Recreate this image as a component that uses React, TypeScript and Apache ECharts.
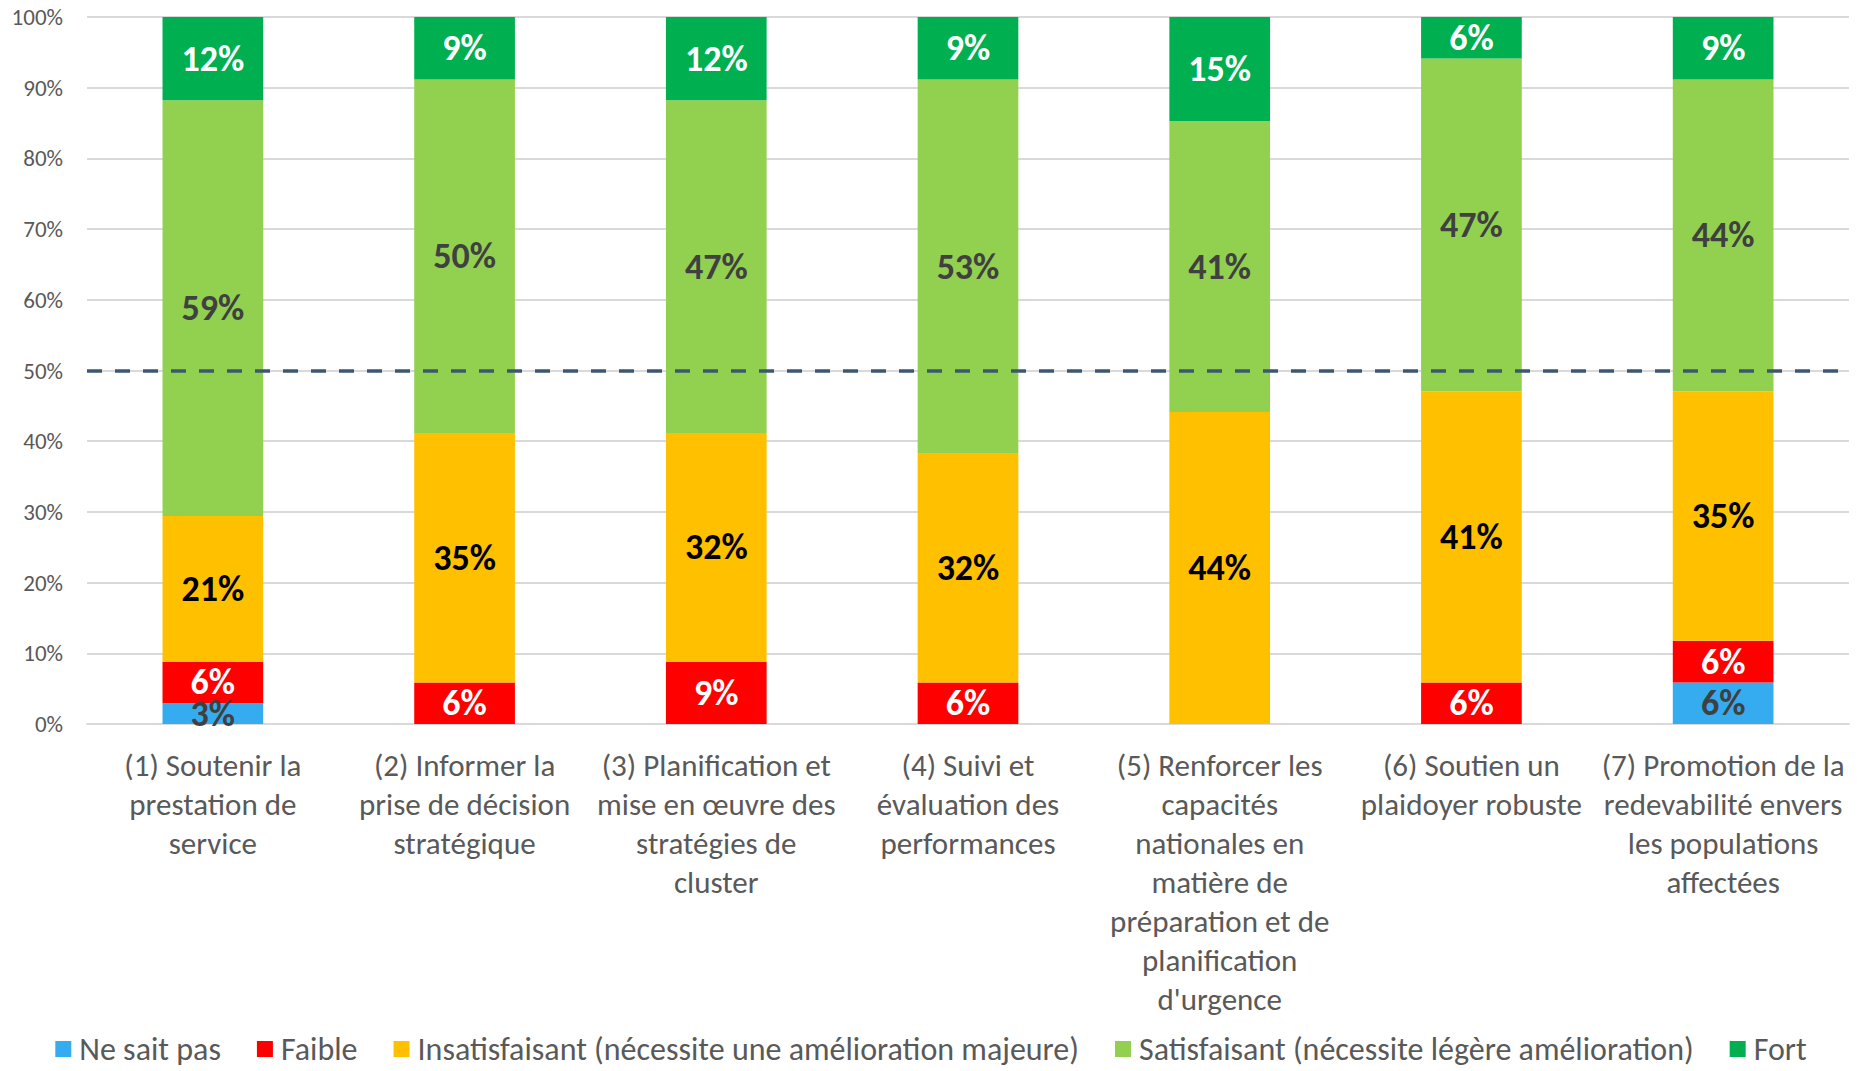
import React, { useEffect, useRef } from "react";
import * as echarts from "echarts";

const categories: string[] = [
  "(1) Soutenir la\nprestation de\nservice",
  "(2) Informer la\nprise de décision\nstratégique",
  "(3) Planification et\nmise en œuvre des\nstratégies de\ncluster",
  "(4) Suivi et\névaluation des\nperformances",
  "(5) Renforcer les\ncapacités\nnationales en\nmatière de\npréparation et de\nplanification\nd'urgence",
  "(6) Soutien un\nplaidoyer robuste",
  "(7) Promotion de la\nredevabilité envers\nles populations\naffectées",
];

const seriesNames: string[] = [
  "Ne sait pas",
  "Faible",
  "Insatisfaisant (nécessite une amélioration majeure)",
  "Satisfaisant (nécessite légère amélioration)",
  "Fort",
];

// values in %
const neSaitPas: number[] = [2.94, 0, 0, 0, 0, 0, 5.88];
const faible: number[] = [5.88, 5.88, 8.82, 5.88, 0, 5.88, 5.88];
const insatisfaisant: number[] = [20.59, 35.29, 32.35, 32.35, 44.12, 41.18, 35.29];
const satisfaisant: number[] = [58.82, 50.0, 47.06, 52.94, 41.18, 47.06, 44.12];
const fort: number[] = [11.76, 8.82, 11.76, 8.82, 14.71, 5.88, 8.82];

const yTicks: number[] = [0, 10, 20, 30, 40, 50, 60, 70, 80, 90, 100];
const thresholdLine = 50;

const colors = ["#35ACEF", "#FF0000", "#FFC000", "#92D050", "#00B050"];
const labelColors = ["#404040", "#FFFFFF", "#000000", "#404040", "#FFFFFF"];

const FONT = "Calibri, Carlito, Lato, sans-serif";

export default function App() {
  const ref = useRef<HTMLDivElement>(null);

  useEffect(() => {
    document.body.style.margin = "0";
    if (!ref.current) return;
    const chart = echarts.init(ref.current, null, { renderer: "svg" });
    const allData = [neSaitPas, faible, insatisfaisant, satisfaisant, fort];

    const series: any[] = allData.map((d, i) => ({
      name: seriesNames[i],
      type: "bar",
      stack: "total",
      barWidth: "40%",
      data: d,
      itemStyle: { color: colors[i] },
      label: {
        show: true,
        position: "inside",
        color: labelColors[i],
        fontFamily: FONT,
        fontWeight: "bold",
        fontSize: 36,
        formatter: (p: any) => (p.value > 0 ? Math.round(p.value) + "%" : ""),
      },
      ...(i === allData.length - 1
        ? {
            markLine: {
              silent: true,
              symbol: ["none", "none"],
              label: { show: false },
              lineStyle: { type: [15, 13], color: "#3B5870", width: 3.5 },
              data: [{ yAxis: thresholdLine }],
            },
          }
        : {}),
    }));

    chart.setOption({
      animation: false,
      textStyle: { fontFamily: FONT },
      grid: { left: 87, right: 13, top: 17, bottom: 347, containLabel: false },
      legend: {
        data: seriesNames,
        left: "center",
        top: 1028,
        icon: "rect",
        itemWidth: 16,
        itemHeight: 16,
        itemGap: 36,
        textStyle: { fontFamily: FONT, fontSize: 32, color: "#595959", padding: [0, 0, 0, 3] },
      },
      xAxis: {
        type: "category",
        data: categories,
        axisTick: { show: false },
        axisLine: { show: true, lineStyle: { color: "#D9D9D9", width: 2 } },
        axisLabel: {
          interval: 0,
          margin: 21,
          fontFamily: FONT,
          fontSize: 31,
          lineHeight: 39,
          color: "#595959",
          align: "center",
        },
      },
      yAxis: {
        type: "value",
        min: yTicks[0],
        max: yTicks[yTicks.length - 1],
        interval: 10,
        axisLine: { show: false },
        axisTick: { show: false },
        splitLine: { lineStyle: { color: "#D9D9D9", width: 2 } },
        axisLabel: {
          formatter: "{value}%",
          margin: 24,
          fontFamily: FONT,
          fontSize: 23,
          color: "#595959",
        },
      },
      series,
    });

    return () => chart.dispose();
  }, []);

  return <div ref={ref} style={{ width: 1862, height: 1071 }} />;
}
